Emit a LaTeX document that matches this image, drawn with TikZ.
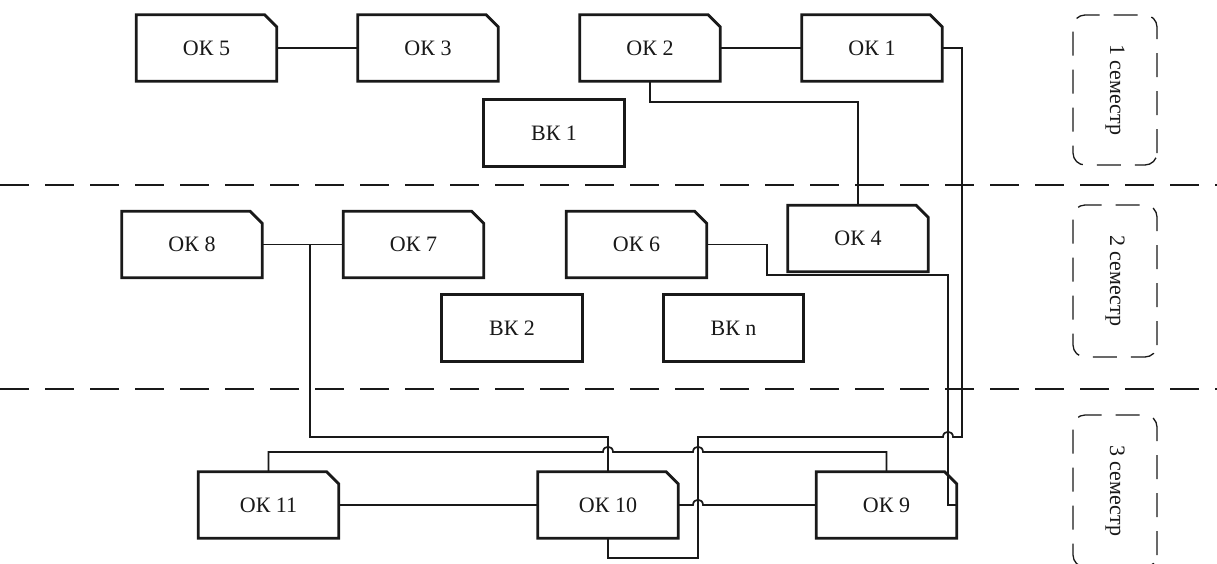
\documentclass[tikz,border=0pt]{standalone}
\usepackage{fontspec}
\setmainfont{Liberation Serif}
\pgfdeclarelayer{bg}
\pgfsetlayers{bg,main}
\tikzset{
  okn/.style={rectangle, minimum width=140pt, minimum height=66pt, inner sep=0pt,
    font=\fontsize{22}{26}\selectfont, text=black!90},
  okline/.style={line width=2.8pt, draw=black!90, line join=miter},
  shadowa/.style={fill=black, opacity=0.10},
  shadowb/.style={fill=black, opacity=0.14},
  conn/.style={line width=1.7pt, draw=black!90},
  sepline/.style={line width=1.6pt, draw=black!90, dash pattern=on 29pt off 16pt},
  semb/.style={draw=black!90, line width=1.3pt, dash pattern=on 24pt off 14pt,
    rounded corners=12pt, inner sep=0pt, font=\fontsize{22}{26}\selectfont, text=black!90}
}
\newcommand{\okbox}[4]{%
  \node[okn] (#1) at (#2,#3) {#4};
  \begin{pgfonlayer}{bg}
    \fill[shadowa] ([shift={(5pt,-5pt)}]#1.south west) -- ([shift={(5pt,-5pt)}]#1.north west) -- ([shift={(-7pt,-5pt)}]#1.north east) -- ([shift={(5pt,-17pt)}]#1.north east) -- ([shift={(5pt,-5pt)}]#1.south east) -- cycle;
    \fill[shadowb] ([shift={(3pt,-3pt)}]#1.south west) -- ([shift={(3pt,-3pt)}]#1.north west) -- ([shift={(-9pt,-3pt)}]#1.north east) -- ([shift={(3pt,-15pt)}]#1.north east) -- ([shift={(3pt,-3pt)}]#1.south east) -- cycle;
    \fill[white] (#1.south west) -- (#1.north west) -- ([xshift=-12pt]#1.north east) -- ([yshift=-12pt]#1.north east) -- (#1.south east) -- cycle;
  \end{pgfonlayer}
  \draw[okline] (#1.south west) -- (#1.north west) -- ([xshift=-12pt]#1.north east) -- ([yshift=-12pt]#1.north east) -- (#1.south east) -- cycle;
}
\newcommand{\vkbox}[4]{%
  \node[okn] (#1) at (#2,#3) {#4};
  \begin{pgfonlayer}{bg}
    \fill[shadowa] ([shift={(5pt,-5pt)}]#1.south west) rectangle ([shift={(5pt,-5pt)}]#1.north east);
    \fill[shadowb] ([shift={(3pt,-3pt)}]#1.south west) rectangle ([shift={(3pt,-3pt)}]#1.north east);
    \fill[white] (#1.south west) rectangle (#1.north east);
  \end{pgfonlayer}
  \draw[okline] (#1.south west) rectangle (#1.north east);
}
\begin{document}
\begin{tikzpicture}[x=1pt, y=-1pt]
\useasboundingbox (0,0) rectangle (1217,563);
\fill[white] (0,0) rectangle (1217,563);

% separators
\draw[sepline] (0,185) -- (1217,185);
\draw[sepline] (0,389) -- (1217,389);

% semester boxes
\node[semb, minimum width=150pt, minimum height=84pt, rotate=-90] (s1) at (1115,90) {1 семестр};
\node[semb, minimum width=152pt, minimum height=84pt, rotate=-90] (s2) at (1115,281) {2 семестр};
\node[semb, minimum width=152pt, minimum height=84pt, rotate=-90] (s3) at (1115,491) {3 семестр};

% boxes
\okbox{ok5}{206.5}{48}{ОК 5}
\okbox{ok3}{428}{48}{ОК 3}
\okbox{ok2}{650}{48}{ОК 2}
\okbox{ok1}{872}{48}{ОК 1}
\vkbox{vk1}{554}{133}{ВК 1}
\okbox{ok4}{858}{238.5}{ОК 4}
\okbox{ok6}{636.5}{244.5}{ОК 6}
\okbox{ok8}{192}{244.5}{ОК 8}
\okbox{ok7}{413.5}{244.5}{ОК 7}
\vkbox{vk2}{512}{328}{ВК 2}
\vkbox{vkn}{733.5}{328}{ВК n}
\okbox{ok11}{268.5}{505}{ОК 11}
\okbox{ok10}{608}{505}{ОК 10}
\okbox{ok9}{886.5}{505}{ОК 9}

% connectors
\draw[conn] (ok5) -- (ok3);
\draw[conn] (ok2) -- (ok1);
\draw[conn] (ok2.south) -- (650,102) -| (ok4.north);
\draw[conn] (ok1.east) -| (962,437) -- (953,437) .. controls (953,430) and (943,430) .. (943,437) -- (698,437) -- (698,558) -| (ok10.south);
\draw[conn] (ok6.east) -- (767,244.5) -- (767,275) -- (948,275) -- (948,505) -- (ok9.east);
\draw[conn] (ok8) -- (ok7);
\coordinate (j8) at (310,244.5);
\draw[conn] (j8) -- (310,437) -| (ok10.north);
\draw[conn] (ok11.north) -- (268.5,452) -- (603,452) .. controls (603,445) and (613,445) .. (613,452) -- (693,452) .. controls (693,445) and (703,445) .. (703,452) -| (ok9.north);
\draw[conn] (ok11) -- (ok10);
\draw[conn] (ok10.east) -- (693,505) .. controls (693,498) and (703,498) .. (703,505) -- (ok9.west);
\end{tikzpicture}
\end{document}
